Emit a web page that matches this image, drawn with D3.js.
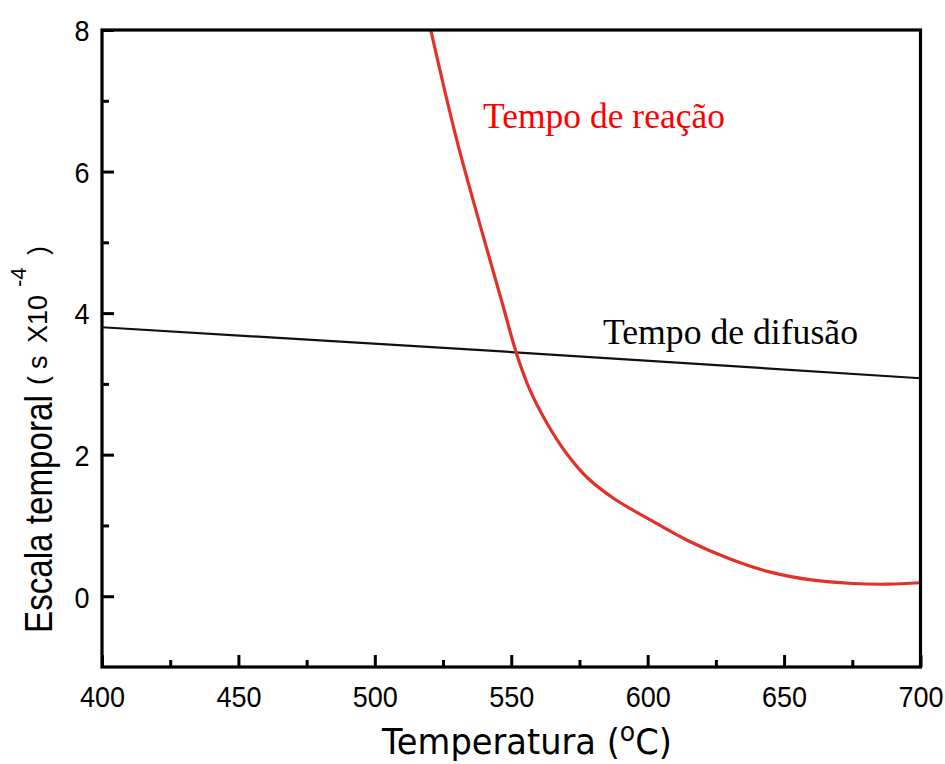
<!DOCTYPE html>
<html>
<head>
<meta charset="utf-8">
<script src="https://cdn.jsdelivr.net/npm/d3@7"></script>
<style>
  html, body { margin: 0; padding: 0; background: #fff; }
  svg { display: block; }
</style>
</head>
<body>
<svg id="chart" width="945" height="764"></svg>
<script>
// ---- data ----
const tempTicks = [400, 450, 500, 550, 600, 650, 700];
const tempMinorTicks = [425, 475, 525, 575, 625, 675];
const timeTicks = [0, 2, 4, 6, 8];
const timeMinorTicks = [1, 3, 5, 7];

const diffusionTemp = [400, 550, 700];
const diffusionTime = [3.80, 3.45, 3.08];

const reactionTemp = [520.5, 530, 540, 547, 552, 557, 563, 570, 578, 588, 600, 615, 630, 645, 660, 675, 688, 700];
const reactionTime = [8.0, 6.45, 5.05, 4.10, 3.42, 2.90, 2.45, 2.03, 1.67, 1.37, 1.10, 0.78, 0.53, 0.34, 0.23, 0.18, 0.17, 0.19];

const labelReaction = "Tempo de reação";
const labelDiffusion = "Tempo de difusão";

(function () {
// ---- layout ----
const svg = d3.select("#chart");
const mLeft = 102, mRight = 920.5, mTop = 30, mBottom = 667;

const x = d3.scaleLinear().domain([400, 700]).range([mLeft, mRight]);
const y = d3.scaleLinear().domain([-1, 8]).range([mBottom, mTop]);

svg.append("defs").append("clipPath").attr("id", "plotclip")
  .append("rect").attr("x", mLeft).attr("y", mTop).attr("width", mRight - mLeft).attr("height", mBottom - mTop);

// lines
const diffData = diffusionTemp.map((t, i) => [t, diffusionTime[i]]);
const reactData = reactionTemp.map((t, i) => [t, reactionTime[i]]);

const g = svg.append("g").attr("clip-path", "url(#plotclip)");
g.append("path").datum(diffData)
  .attr("d", d3.line().x(d => x(d[0])).y(d => y(d[1])))
  .attr("fill", "none").attr("stroke", "#111").attr("stroke-width", 2.2);
g.append("path").datum(reactData)
  .attr("d", d3.line().x(d => x(d[0])).y(d => y(d[1])).curve(d3.curveCatmullRom.alpha(0.5)))
  .attr("fill", "none").attr("stroke", "#e2302a").attr("stroke-width", 3.2);

// axes
const tickFont = "'Liberation Sans', Arial, sans-serif";
const xAxis = d3.axisBottom(x).tickValues(tempTicks).tickSizeInner(-12).tickSizeOuter(0).tickPadding(0).tickFormat(d3.format("d"));
const xMinor = d3.axisBottom(x).tickValues(tempMinorTicks).tickSizeInner(-7).tickSizeOuter(0).tickFormat("");
const yAxis = d3.axisLeft(y).tickValues(timeTicks).tickSizeInner(-12).tickSizeOuter(0).tickPadding(14).tickFormat(d3.format("d"));
const yMinor = d3.axisLeft(y).tickValues(timeMinorTicks).tickSizeInner(-7).tickSizeOuter(0).tickFormat("");

function styleAxis(sel) {
  sel.select(".domain").remove();
  sel.selectAll(".tick line").attr("stroke", "#000").attr("stroke-width", 3);
  sel.selectAll(".tick text").attr("fill", "#000").style("font-family", tickFont).style("font-size", "30px");
}

const gx = svg.append("g").attr("transform", `translate(0,${mBottom})`).call(xAxis).call(styleAxis);
gx.selectAll(".tick text").attr("y", 0).attr("dy", "40px").attr("transform", "scale(0.9,1)");
svg.append("g").attr("transform", `translate(0,${mBottom})`).call(xMinor).call(styleAxis);

const gy = svg.append("g").attr("transform", `translate(${mLeft},0)`).call(yAxis).call(styleAxis);
gy.selectAll(".tick text").attr("dy", "0.36em").attr("transform", "scale(0.9,1)");
svg.append("g").attr("transform", `translate(${mLeft},0)`).call(yMinor).call(styleAxis);

// frame
svg.append("rect").attr("x", mLeft).attr("y", mTop).attr("width", mRight - mLeft).attr("height", mBottom - mTop)
  .attr("fill", "none").attr("stroke", "#000").attr("stroke-width", 3.2);

// helper to fit a text to a given length by horizontal scaling
function fit(textSel, targetLen, tx, ty, rot) {
  const len = textSel.node().getComputedTextLength();
  const s = len > 0 ? targetLen / len : 1;
  textSel.attr("transform", `translate(${tx},${ty})${rot ? " rotate(" + rot + ")" : ""} scale(${s},1)`);
}

// annotations
const tReact = svg.append("text").text(labelReaction)
  .style("font-family", "'Liberation Serif', 'Times New Roman', serif").style("font-size", "35px")
  .attr("fill", "#ff0000");
fit(tReact, 242, 483, 128);

const tDiff = svg.append("text").text(labelDiffusion)
  .style("font-family", "'Liberation Serif', 'Times New Roman', serif").style("font-size", "35px")
  .attr("fill", "#000");
fit(tDiff, 255, 603, 344);

// x title
const xt = svg.append("text").style("font-family", "'DejaVu Sans', Verdana, sans-serif").style("font-size", "36px").attr("fill", "#000");
xt.append("tspan").text("Temperatura (");
xt.append("tspan").text("o").style("font-size", "27px").attr("dy", -13);
xt.append("tspan").text("C)").attr("dy", 13);
fit(xt, 290, 382, 754);

// y title
const yt1 = svg.append("text").text("Escala temporal")
  .style("font-family", "'Liberation Sans', Arial, sans-serif").style("font-size", "38px").attr("fill", "#000");
fit(yt1, 238, 52, 633, -90);

const yg = svg.append("g").attr("transform", "translate(47,633) rotate(-90)");
const unitParts = [
  { t: "(", pos: 248, size: 27, dy: 0 },
  { t: "s", pos: 264, size: 27, dy: 0 },
  { t: "X10", pos: 290, size: 27, dy: 0 },
  { t: "-4", pos: 346, size: 22, dy: -21 },
  { t: ")", pos: 378, size: 27, dy: 0 }
];
unitParts.forEach(p => {
  yg.append("text").text(p.t).attr("x", p.pos).attr("y", p.dy)
    .style("font-family", tickFont).style("font-size", p.size + "px").attr("fill", "#000");
});
})();
</script>
</body>
</html>
